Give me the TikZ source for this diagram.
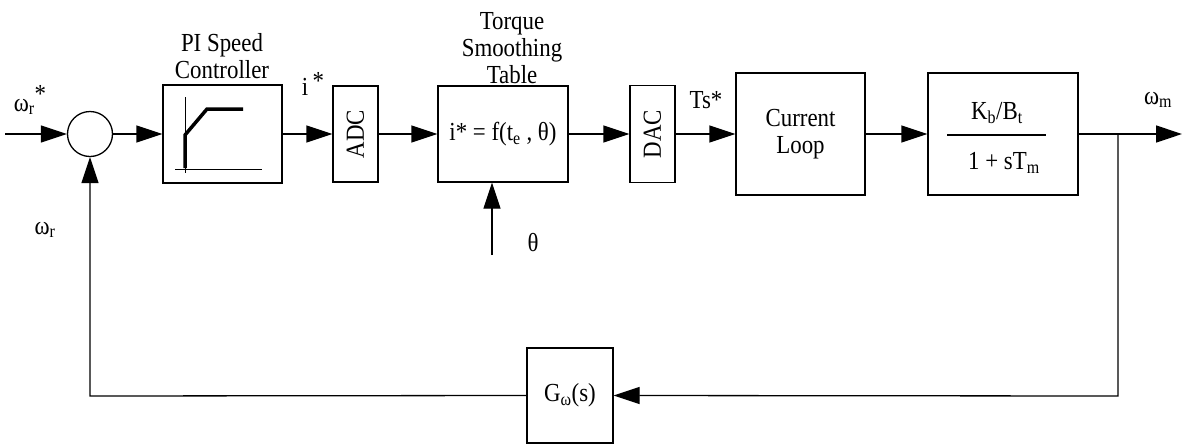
\documentclass[tikz,border=0pt]{standalone}
\usepackage{fontspec}
\setmainfont{Liberation Serif}[FakeStretch=0.88]
\usetikzlibrary{arrows.meta}
\begin{document}
\begin{tikzpicture}[x=1pt,y=-1pt,
  every node/.style={font=\fontsize{26}{27}\selectfont, inner sep=0pt},
  blk/.style={draw, line width=1.3pt, rectangle},
  sig/.style={line width=1.3pt},
  arr/.style={sig, -{Triangle[length=26pt,width=17pt]}},
  lbl/.style={align=center}]
\useasboundingbox (0,0) rectangle (1187,445);
% blocks
\node[draw, line width=1.3pt, circle, minimum size=45pt] (sum) at (90,134) {};
\node[blk, minimum width=119pt, minimum height=98pt] (pi) at (222.5,134) {};
\node[blk, minimum width=45pt, minimum height=96pt] (adc) at (355.5,134) {\rotatebox{90}{ADC}};
\node[blk, minimum width=130pt, minimum height=96pt] (tst) at (503,134) {i* = f(t\textsubscript{e} , θ)};
\node[blk, minimum width=45pt, minimum height=97pt] (dac) at (652.5,134) {\rotatebox{90}{DAC}};
\node[blk, minimum width=129pt, minimum height=122pt, align=center] (cl) at (800.5,134) {Current\\Loop};
\node[blk, minimum width=150pt, minimum height=122pt] (kb) at (1003,134) {};
\node[blk, minimum width=86pt, minimum height=95pt] (g) at (570,395.5) {G\textsubscript{ω}(s)};
% PI characteristic
\draw[line width=1pt] (185,97) -- (185,173);
\draw[line width=1pt] (175,169) -- (262,169);
\draw[line width=3.5pt] (185,168) -- (185,135) -- (207,109) -- (243,109);
% transfer function
\node (num) at (997,113) {K\textsubscript{b}/B\textsubscript{t}};
\draw[line width=1.2pt] (947,135) -- (1046,135);
\node (den) at (1004,163) {1 + sT\textsubscript{m}};
% coordinates
\coordinate (in) at (5,134);
\coordinate (out) at (1182,134);
\coordinate (br) at (1118,134);
\coordinate (brd) at (1118,396);
\coordinate (fbl) at (90,396);
\coordinate (th) at (492,255);
% connectors
\draw[arr] (in) -- (sum.west);
\draw[arr] (sum.east) -- (pi.west);
\draw[arr] (pi.east) -- (adc.west);
\draw[arr] (adc.east) -- (tst.west);
\draw[arr] (tst.east) -- (dac.west);
\draw[arr] (dac.east) -- (cl.west);
\draw[arr] (cl.east) -- (kb.west);
\draw[arr] (kb.east) -- (out);
\draw[arr] (br) -- (brd) -- (g.east);
\draw[arr] (g.west) -- (fbl) -- (sum.south);
\draw[arr] (th) -- (th |- tst.south);
% labels
\node[lbl] (lpi) at (222,56) {PI Speed\\Controller};
\node[lbl] (lt) at (512,48) {Torque\\Smoothing\\Table};
\node (li) at (313,84) {i\,\raisebox{6pt}{*}};
\node (lth) at (533,243) {θ};
\node (lts) at (706,100) {Ts*};
\node (lwm) at (1158,100) {ω\textsubscript{m}};
\node (lwr) at (45,230) {ω\textsubscript{r}};
\node (lwrs) at (30,100) {ω\textsubscript{r}\raisebox{9pt}{*}};
\end{tikzpicture}
\end{document}
